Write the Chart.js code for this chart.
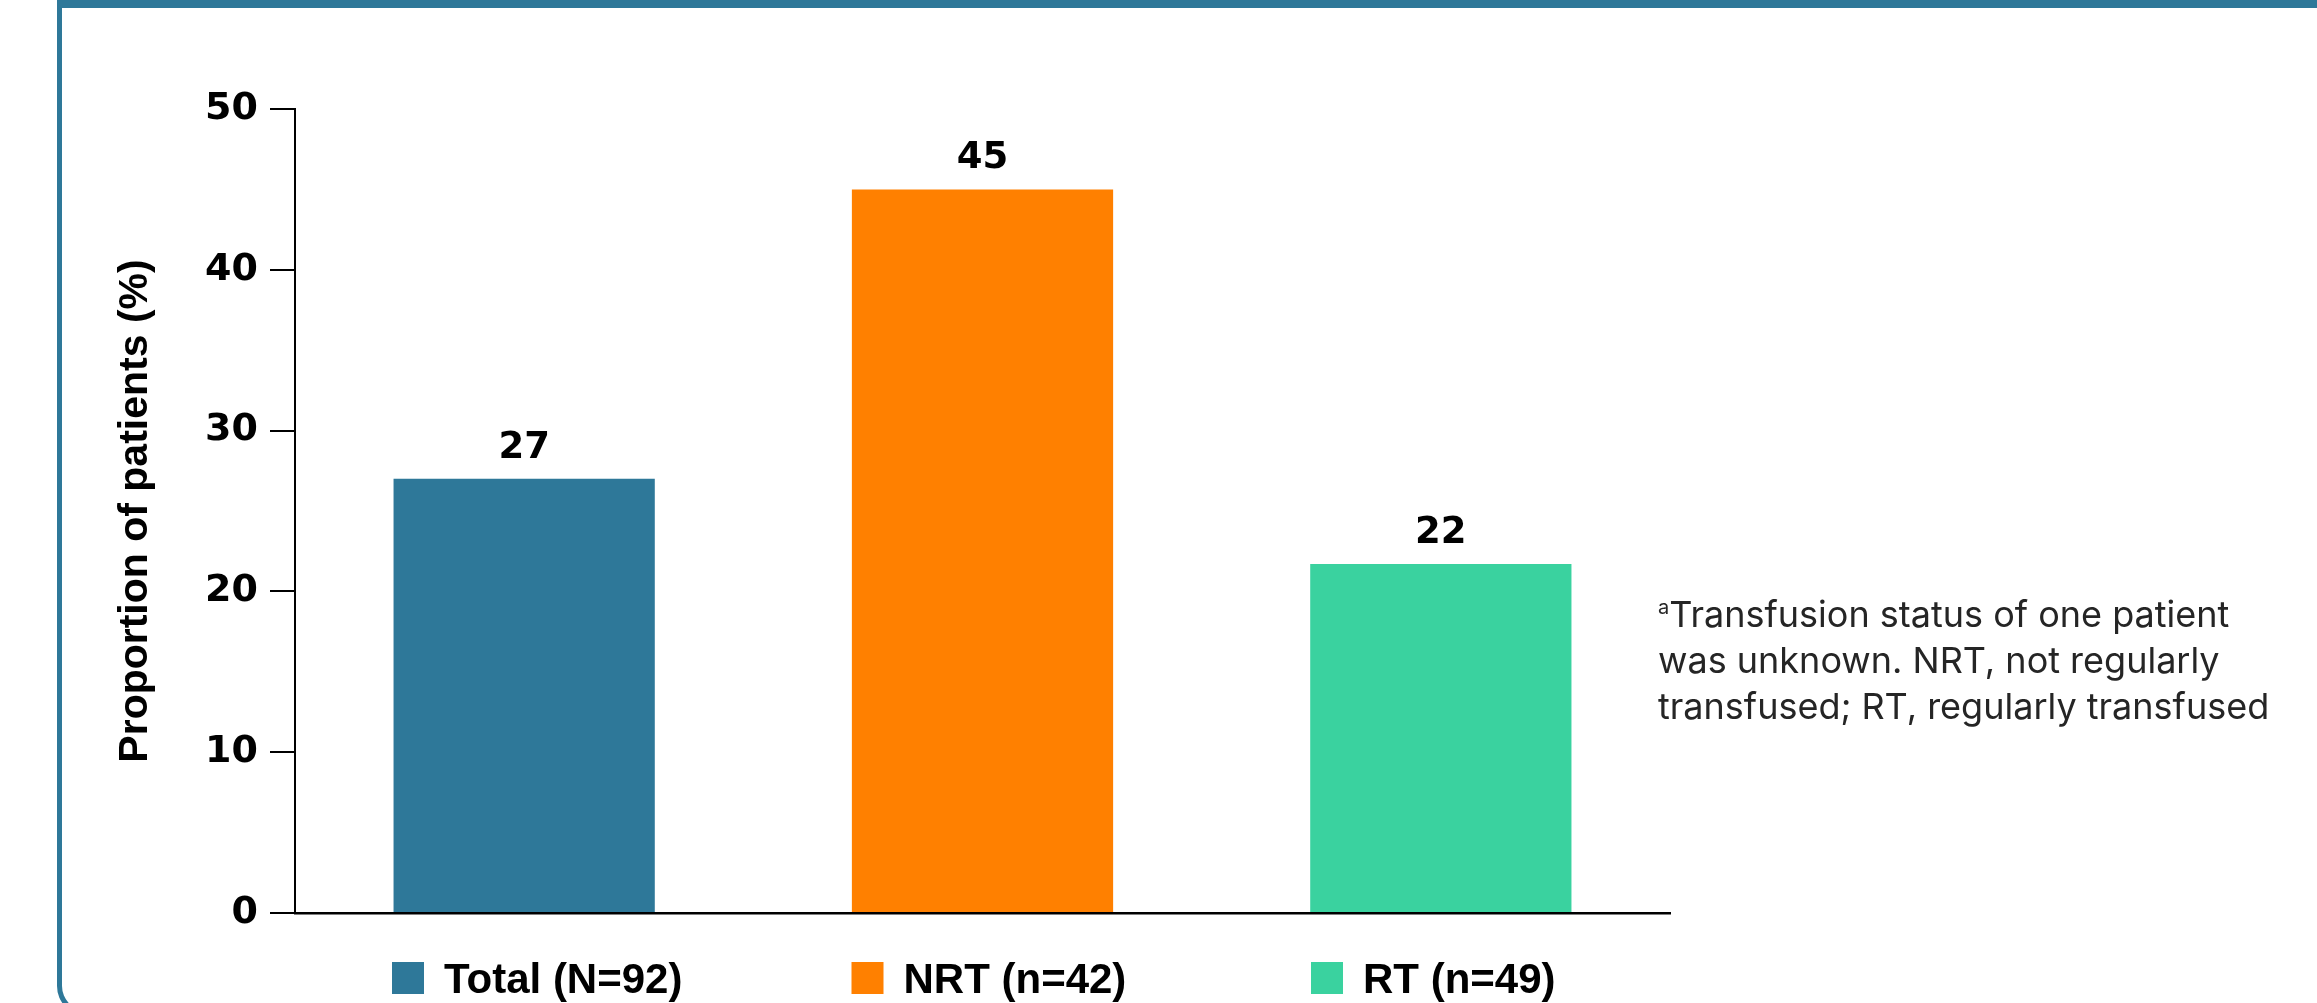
<!DOCTYPE html>
<html>
<head>
<meta charset="utf-8">
<script src="https://cdn.jsdelivr.net/npm/chart.js@4.4.1/dist/chart.umd.min.js"></script>
<style>
  html, body { margin: 0; padding: 0; background: #ffffff; overflow: hidden; }
  body { width: 2317px; height: 1003px; position: relative; }
  #frame {
    position: absolute; left: 57px; top: 0; width: 3000px; height: 1016px;
    box-sizing: border-box;
    border-left: 5px solid #2E7899; border-top: 8px solid #2E7899; border-bottom: 5px solid #2E7899;
    border-radius: 0 0 0 30px;
  }
  #chart { position: absolute; left: 0; top: 0; }
  #note {
    position: absolute; left: 1658px; top: 591px;
    font-family: Inter, "Noto Sans", sans-serif; font-size: 36px; line-height: 46px;
    color: #252525; white-space: nowrap;
  }
  #note sup { font-size: 20px; line-height: 0; vertical-align: 13px; }
</style>
</head>
<body>
<div id="frame"></div>
<canvas id="chart" width="2317" height="1003"></canvas>
<div id="note"><sup>a</sup>Transfusion status of one patient<br>was unknown. NRT, not regularly<br>transfused; RT, regularly transfused</div>
<script>
// ---- data ----
const categories = ['Total (N=92)', 'NRT (n=42)', 'RT (n=49)'];
const proportions = [27, 45, 21.7];
const valueLabels = ['27', '45', '22'];
const yTickValues = [0, 10, 20, 30, 40, 50];
const axisTitle = 'Proportion of patients (%)';

// ---- styles ----
const barColors = ['#2E7899', '#FF8000', '#3AD29F'];

const valueLabelPlugin = {
  id: 'valueLabels',
  afterDatasetsDraw(chart) {
    const ctx = chart.ctx;
    const meta = chart.getDatasetMeta(0);
    ctx.save();
    ctx.font = 'bold 37px "DejaVu Sans"';
    ctx.fillStyle = '#000000';
    ctx.textAlign = 'center';
    ctx.textBaseline = 'alphabetic';
    meta.data.forEach((bar, i) => {
      ctx.fillText(valueLabels[i], bar.x, bar.y - 21);
    });
    ctx.restore();
  }
};

const categoryLegendPlugin = {
  id: 'categoryLegend',
  afterDraw(chart) {
    const { ctx, chartArea } = chart;
    ctx.save();
    ctx.font = 'bold 42px "Liberation Sans"';
    const box = 32, textGap = 20, pitch = 459.5;
    const start = chartArea.left + 97;
    const top = chartArea.bottom + 49;
    categories.forEach((c, i) => {
      const x = start + i * pitch;
      ctx.fillStyle = barColors[i];
      ctx.fillRect(x, top, box, box);
      ctx.fillStyle = '#000000';
      ctx.textAlign = 'left';
      ctx.textBaseline = 'alphabetic';
      ctx.fillText(c, x + box + textGap, top + 31);
    });
    ctx.restore();
  }
};

new Chart(document.getElementById('chart'), {
  type: 'bar',
  data: {
    labels: categories,
    datasets: [{
      data: proportions,
      backgroundColor: barColors,
      borderWidth: 0,
      barPercentage: 0.57,
      categoryPercentage: 1.0
    }]
  },
  options: {
    responsive: false,
    animation: false,
    layout: { padding: { left: 100, right: 647, top: 109, bottom: 90 } },
    plugins: {
      legend: { display: false },
      tooltip: { enabled: false }
    },
    scales: {
      x: {
        grid: { display: false },
        ticks: { display: false },
        border: { display: true, color: '#000000', width: 2.5 },
        afterFit: s => { s.height = 0; }
      },
      y: {
        min: 0,
        max: 50,
        afterBuildTicks: s => { s.ticks = yTickValues.map(v => ({ value: v })); },
        ticks: {
          color: '#000000',
          padding: 12,
          font: { family: 'DejaVu Sans', weight: 'bold', size: 38 }
        },
        grid: { drawOnChartArea: false, drawTicks: true, tickLength: 25, color: '#000000', lineWidth: 2 },
        border: { display: true, color: '#000000', width: 2 },
        title: {
          display: true,
          text: axisTitle,
          color: '#000000',
          font: { family: 'Liberation Sans', weight: 'bold', size: 41 },
          padding: { top: 11, bottom: 0 }
        },
        afterFit: s => { s.width = 195; }
      }
    }
  },
  plugins: [valueLabelPlugin, categoryLegendPlugin]
});
</script>
</body>
</html>
